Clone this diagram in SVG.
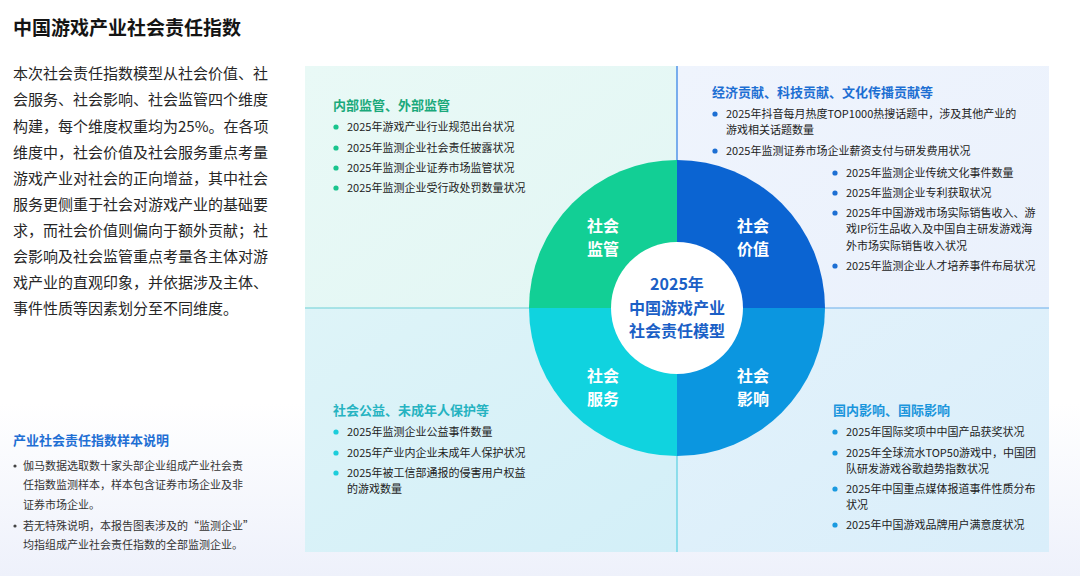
<svg xmlns="http://www.w3.org/2000/svg" width="1080" height="576" viewBox="0 0 1080 576">
<defs>
<linearGradient id="bgGrad" x1="0" y1="0" x2="0" y2="1">
<stop offset="0" stop-color="#ffffff"/>
<stop offset="0.7" stop-color="#ffffff"/>
<stop offset="1" stop-color="#eef1fb"/>
</linearGradient>
<linearGradient id="tlGrad" x1="0" y1="0" x2="1" y2="1">
<stop offset="0" stop-color="#e9f9f6"/>
<stop offset="1" stop-color="#e2f6f4"/>
</linearGradient>
<linearGradient id="trGrad" x1="0" y1="0" x2="1" y2="1">
<stop offset="0" stop-color="#eff4fd"/>
<stop offset="1" stop-color="#eaf1fc"/>
</linearGradient>
<linearGradient id="blGrad" x1="0" y1="0" x2="1" y2="1">
<stop offset="0" stop-color="#def4f8"/>
<stop offset="1" stop-color="#d3eff8"/>
</linearGradient>
<linearGradient id="brGrad" x1="0" y1="0" x2="1" y2="1">
<stop offset="0" stop-color="#e3f2fb"/>
<stop offset="1" stop-color="#d9eefa"/>
</linearGradient>
<style>
text{font-family:"Noto Sans CJK SC","Noto Sans",sans-serif;}
.title{font-size:19px;font-weight:700;fill:#141414;}
.para{font-size:15px;fill:#262626;}
.noteh{font-size:13px;font-weight:700;fill:#1f6fd4;}
.note{font-size:11px;fill:#333333;}
.qh{font-size:13px;font-weight:700;}
.item{font-size:11px;fill:#222222;}
.seg{font-size:16px;font-weight:700;fill:#ffffff;text-anchor:middle;}
.ctr{font-size:16px;font-weight:700;fill:#1b5fc6;text-anchor:middle;}
</style>
</defs>
<rect x="0" y="0" width="1080" height="576" fill="url(#bgGrad)"/>

<g id="title"><text class="title" x="13" y="35">中国游戏产业社会责任指数</text></g>

<g id="intro">
<text class="para" x="13" y="79">本次社会责任指数模型从社会价值、社</text>
<text class="para" x="13" y="105">会服务、社会影响、社会监管四个维度</text>
<text class="para" x="13" y="132">构建，每个维度权重均为25%。在各项</text>
<text class="para" x="13" y="158">维度中，社会价值及社会服务重点考量</text>
<text class="para" x="13" y="184">游戏产业对社会的正向增益，其中社会</text>
<text class="para" x="13" y="210">服务更侧重于社会对游戏产业的基础要</text>
<text class="para" x="13" y="236">求，而社会价值则偏向于额外贡献；社</text>
<text class="para" x="13" y="262">会影响及社会监管重点考量各主体对游</text>
<text class="para" x="13" y="288">戏产业的直观印象，并依据涉及主体、</text>
<text class="para" x="13" y="314">事件性质等因素划分至不同维度。</text>
</g>

<g id="sample-note">
<text class="noteh" x="13" y="445">产业社会责任指数样本说明</text>
<circle cx="15" cy="466" r="1.6" fill="#444444"/>
<text class="note" x="23" y="470">伽马数据选取数十家头部企业组成产业社会责</text>
<text class="note" x="23" y="489">任指数监测样本，样本包含证券市场企业及非</text>
<text class="note" x="23" y="509">证券市场企业。</text>
<circle cx="15" cy="526" r="1.6" fill="#444444"/>
<text class="note" x="23" y="530">若无特殊说明，本报告图表涉及的“监测企业”</text>
<text class="note" x="23" y="549">均指组成产业社会责任指数的全部监测企业。</text>
</g>

<g id="panels">
<rect x="305" y="66" width="372" height="242" fill="url(#tlGrad)"/>
<rect x="677" y="66" width="372" height="242" fill="url(#trGrad)"/>
<rect x="305" y="308" width="372" height="244" fill="url(#blGrad)"/>
<rect x="677" y="308" width="372" height="244" fill="url(#brGrad)"/>
</g>

<g id="connectors">
<line x1="677" y1="66" x2="677" y2="308" stroke="#3b86e6" stroke-width="1.3"/>
<line x1="677" y1="308" x2="677" y2="552" stroke="#63d3e4" stroke-width="1.3"/>
<line x1="305" y1="308" x2="677" y2="308" stroke="#6ccfd6" stroke-width="1.2"/>
<line x1="677" y1="308" x2="1049" y2="308" stroke="#6aaee9" stroke-width="1.2"/>
</g>

<g id="q-supervision">
<text class="qh" x="333" y="110" fill="#1aa97b">内部监管、外部监管</text>
<g fill="#19c48d">
<circle cx="336" cy="127" r="2.6"/><circle cx="336" cy="148" r="2.6"/><circle cx="336" cy="168" r="2.6"/><circle cx="336" cy="188" r="2.6"/>
</g>
<text class="item" x="347" y="131">2025年游戏产业行业规范出台状况</text>
<text class="item" x="347" y="152">2025年监测企业社会责任披露状况</text>
<text class="item" x="347" y="172">2025年监测企业证券市场监管状况</text>
<text class="item" x="347" y="192">2025年监测企业受行政处罚数量状况</text>
</g>

<g id="q-value">
<text class="qh" x="712" y="97" fill="#1d6fd3">经济贡献、科技贡献、文化传播贡献等</text>
<g fill="#1d6fd3">
<circle cx="715" cy="114" r="2.6"/><circle cx="715" cy="151" r="2.6"/>
<circle cx="835" cy="173" r="2.6"/><circle cx="835" cy="193" r="2.6"/><circle cx="835" cy="213" r="2.6"/><circle cx="835" cy="266" r="2.6"/>
</g>
<text class="item" x="726" y="118">2025年抖音每月热度TOP1000热搜话题中，涉及其他产业的</text>
<text class="item" x="726" y="134">游戏相关话题数量</text>
<text class="item" x="726" y="155">2025年监测证券市场企业薪资支付与研发费用状况</text>
<text class="item" x="846" y="177">2025年监测企业传统文化事件数量</text>
<text class="item" x="846" y="197">2025年监测企业专利获取状况</text>
<text class="item" x="846" y="217">2025年中国游戏市场实际销售收入、游</text>
<text class="item" x="846" y="233">戏IP衍生品收入及中国自主研发游戏海</text>
<text class="item" x="846" y="250">外市场实际销售收入状况</text>
<text class="item" x="846" y="270">2025年监测企业人才培养事件布局状况</text>
</g>

<g id="q-service">
<text class="qh" x="333" y="415" fill="#26b3c1">社会公益、未成年人保护等</text>
<g fill="#1ccddb">
<circle cx="336" cy="432" r="2.6"/><circle cx="336" cy="453" r="2.6"/><circle cx="336" cy="473" r="2.6"/>
</g>
<text class="item" x="347" y="436">2025年监测企业公益事件数量</text>
<text class="item" x="347" y="457">2025年产业内企业未成年人保护状况</text>
<text class="item" x="347" y="477">2025年被工信部通报的侵害用户权益</text>
<text class="item" x="347" y="493">的游戏数量</text>
</g>

<g id="q-influence">
<text class="qh" x="833" y="415" fill="#1a95dc">国内影响、国际影响</text>
<g fill="#1a9ae0">
<circle cx="835" cy="432" r="2.6"/><circle cx="835" cy="453" r="2.6"/><circle cx="835" cy="489" r="2.6"/><circle cx="835" cy="525" r="2.6"/>
</g>
<text class="item" x="846" y="436">2025年国际奖项中中国产品获奖状况</text>
<text class="item" x="846" y="457">2025年全球流水TOP50游戏中，中国团</text>
<text class="item" x="846" y="473">队研发游戏谷歌趋势指数状况</text>
<text class="item" x="846" y="493">2025年中国重点媒体报道事件性质分布</text>
<text class="item" x="846" y="509">状况</text>
<text class="item" x="846" y="529">2025年中国游戏品牌用户满意度状况</text>
</g>

<g id="seg-supervision">
<path d="M677,308 L529,308 A148,148 0 0 1 677,160 Z" fill="#12cf95"/>
<text class="seg" x="603" y="231.5">社会</text>
<text class="seg" x="603" y="255">监管</text>
</g>
<g id="seg-value">
<path d="M677,308 L677,160 A148,148 0 0 1 825,308 Z" fill="#0b64d2"/>
<text class="seg" x="753" y="231.5">社会</text>
<text class="seg" x="753" y="255">价值</text>
</g>
<g id="seg-influence">
<path d="M677,308 L825,308 A148,148 0 0 1 677,456 Z" fill="#0b96e0"/>
<text class="seg" x="753" y="381.5">社会</text>
<text class="seg" x="753" y="405">影响</text>
</g>
<g id="seg-service">
<path d="M677,308 L677,456 A148,148 0 0 1 529,308 Z" fill="#10d3df"/>
<text class="seg" x="603" y="381.5">社会</text>
<text class="seg" x="603" y="405">服务</text>
</g>
<g id="center">
<circle cx="677" cy="308" r="66" fill="#ffffff"/>
<text class="ctr" x="677" y="290.3">2025年</text>
<text class="ctr" x="677" y="313.8">中国游戏产业</text>
<text class="ctr" x="677" y="337.3">社会责任模型</text>
</g>
</svg>
